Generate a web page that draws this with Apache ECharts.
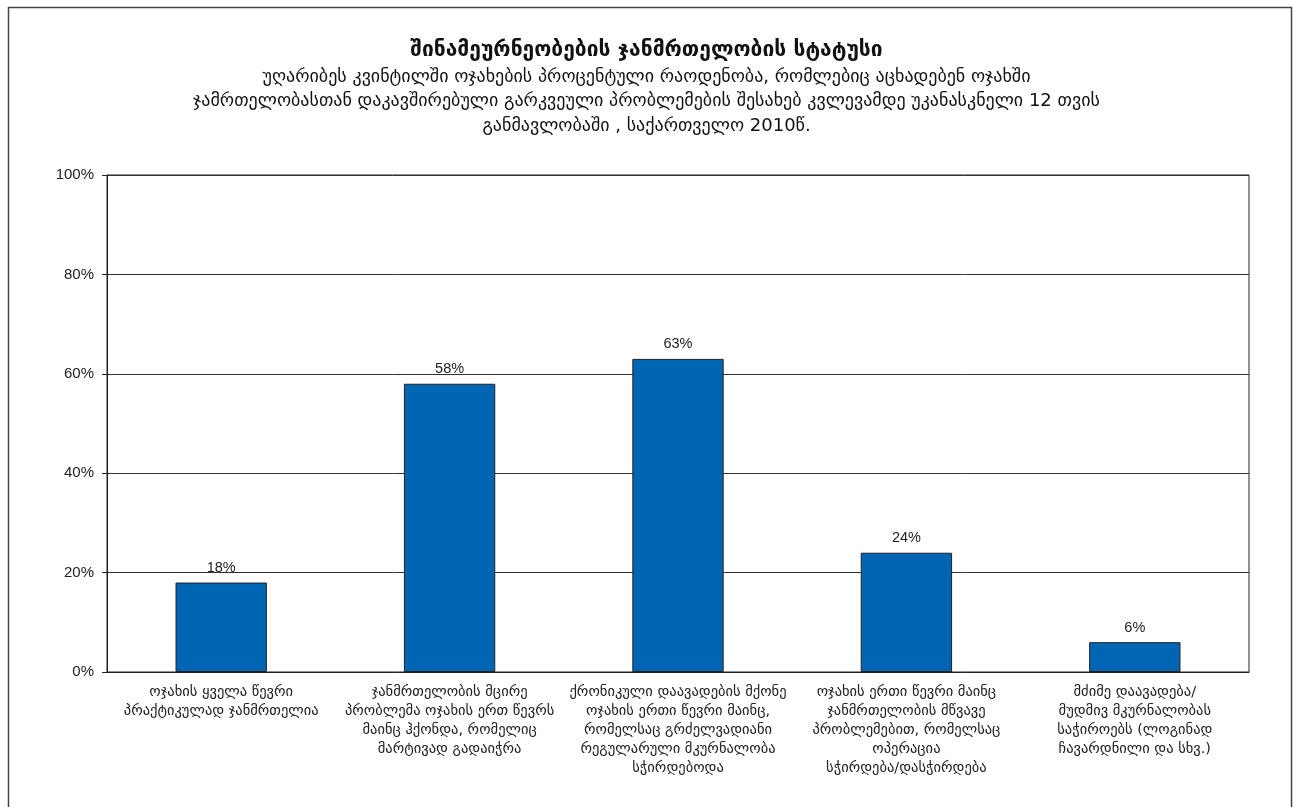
<!DOCTYPE html>
<html><head><meta charset="utf-8">
<script src="https://cdn.jsdelivr.net/npm/echarts@6/dist/echarts.min.js"></script>
<style>html,body{margin:0;padding:0;background:#fff}#c{width:1293px;height:807px}</style>
</head><body><div id="c"></div>
<script>
const categories = [
  "ოჯახის ყველა წევრი\nპრაქტიკულად ჯანმრთელია",
  "ჯანმრთელობის მცირე\nპრობლემა ოჯახის ერთ წევრს\nმაინც ჰქონდა, რომელიც\nმარტივად გადაიჭრა",
  "ქრონიკული დაავადების მქონე\nოჯახის ერთი წევრი მაინც,\nრომელსაც გრძელვადიანი\nრეგულარული მკურნალობა\nსჭირდებოდა",
  "ოჯახის ერთი წევრი მაინც\nჯანმრთელობის მწვავე\nპრობლემებით, რომელსაც\nოპერაცია\nსჭირდება/დასჭირდება",
  "მძიმე დაავადება/\nმუდმივ მკურნალობას\nსაჭიროებს (ლოგინად\nჩავარდნილი და სხვ.)"
];
const values = [18, 58, 63, 24, 6];
const yTicks = [0, 20, 40, 60, 80, 100];
const titleText = "შინამეურნეობების ჯანმრთელობის სტატუსი";
const subtitleText = "უღარიბეს კვინტილში ოჯახების პროცენტული რაოდენობა, რომლებიც აცხადებენ ოჯახში\nჯამრთელობასთან დაკავშირებული გარკვეული პრობლემების შესახებ კვლევამდე უკანასკნელი 12 თვის\nგანმავლობაში , საქართველო 2010წ.";

const chart = echarts.init(document.getElementById('c'));
chart.setOption({
  animation: false,
  backgroundColor: '#fff',
  title: [
    {text: titleText, left: 'center', top: 35, textStyle: {fontFamily: 'DejaVu Sans', fontSize: 21, fontWeight: 'bold', color: '#111'}},
    {text: subtitleText, left: 'center', top: 60, textStyle: {fontFamily: 'DejaVu Sans', fontSize: 18, fontWeight: 'normal', color: '#111', lineHeight: 24.5, align: 'center'}}
  ],
  graphic: [{type: 'rect', left: 6, top: 5, shape: {width: 1283, height: 810}, style: {fill: null, stroke: '#444', lineWidth: 1.5}, silent: true}],
  grid: {left: 107, right: 44, top: 175, bottom: 135, show: true, borderColor: '#222', borderWidth: 1},
  xAxis: {
    type: 'category', data: categories,
    axisLine: {lineStyle: {color: '#222'}}, axisTick: {show: false},
    axisLabel: {interval: 0, margin: 11, fontFamily: 'DejaVu Sans', fontSize: 14.5, color: '#222', lineHeight: 19, align: 'center'}
  },
  yAxis: {
    type: 'value', min: yTicks[0], max: yTicks[yTicks.length - 1], interval: 20,
    axisLine: {show: true, lineStyle: {color: '#222'}},
    axisTick: {show: true, length: 5, lineStyle: {color: '#222'}},
    axisLabel: {formatter: '{value}%', fontFamily: 'Liberation Sans', fontSize: 15, color: '#222', margin: 13},
    splitLine: {lineStyle: {color: '#333', width: 1}}
  },
  series: [{
    type: 'bar', data: values, barWidth: '40%',
    itemStyle: {color: '#0066B3', borderColor: '#222', borderWidth: 1},
    label: {show: true, position: 'top', formatter: '{c}%', fontFamily: 'Liberation Sans', fontSize: 14.5, color: '#222', distance: 7}
  }]
});
</script></body></html>
